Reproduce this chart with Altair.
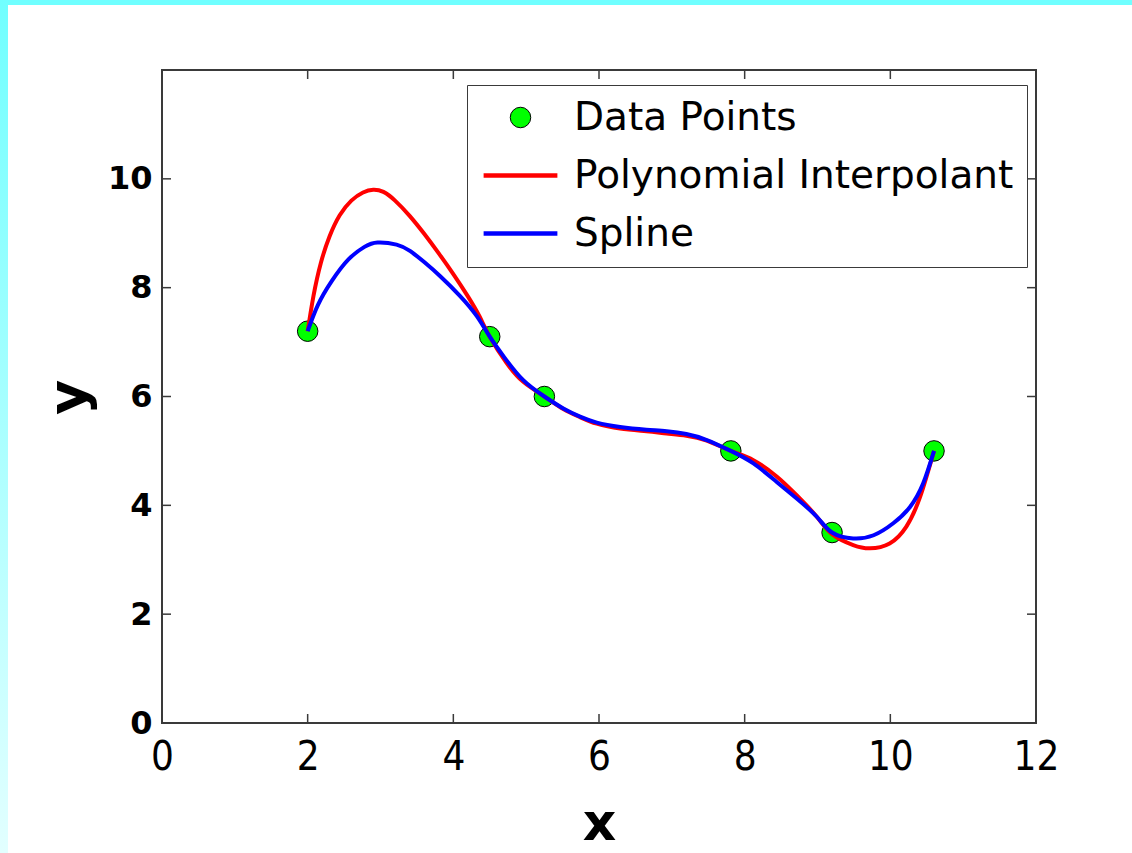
import altair as alt
import pandas as pd

# Measured data points
pts_x = [2.0, 4.5, 5.25, 7.81, 9.2, 10.6]
pts_y = [7.2, 7.1, 6.0, 5.0, 3.5, 5.0]

# Degree-5 polynomial interpolant, sampled along its path
poly_x = [2.00, 2.08, 2.18, 2.30, 2.44, 2.60, 2.76, 2.90, 3.04, 3.20, 3.40, 3.60,
          3.80, 4.00, 4.20, 4.36, 4.50, 4.73, 4.96, 5.25, 5.51, 5.74, 5.97, 6.29,
          6.65, 6.93, 7.20, 7.48, 7.81, 8.12, 8.44, 8.71, 8.99, 9.20, 9.49, 9.72,
          9.99, 10.22, 10.41, 10.60]
poly_y = [7.20, 7.85, 8.45, 8.94, 9.33, 9.60, 9.75, 9.80, 9.76, 9.60, 9.32, 8.99,
          8.63, 8.25, 7.84, 7.47, 7.10, 6.62, 6.27, 6.00, 5.77, 5.62, 5.50, 5.41,
          5.36, 5.32, 5.28, 5.19, 5.00, 4.83, 4.53, 4.19, 3.79, 3.47, 3.27, 3.21,
          3.30, 3.61, 4.16, 5.00]

# Cubic spline through the same points
spline_x = [2.00, 2.14, 2.33, 2.56, 2.78, 2.96, 3.22, 3.41, 3.60, 3.82, 4.09, 4.32,
            4.50, 4.70, 4.96, 5.25, 5.51, 5.74, 5.97, 6.29, 6.65, 6.93, 7.20, 7.48,
            7.81, 8.12, 8.44, 8.71, 8.99, 9.20, 9.49, 9.77, 10.04, 10.27, 10.45, 10.60]
spline_y = [7.20, 7.68, 8.12, 8.52, 8.75, 8.83, 8.79, 8.67, 8.47, 8.21, 7.85, 7.48,
            7.10, 6.72, 6.30, 6.00, 5.78, 5.63, 5.52, 5.44, 5.39, 5.36, 5.31, 5.20,
            5.00, 4.77, 4.43, 4.13, 3.79, 3.50, 3.39, 3.45, 3.67, 3.97, 4.40, 5.00]

series_names = ["Data Points", "Polynomial Interpolant", "Spline"]
x_ticks = [0, 2, 4, 6, 8, 10, 12]
y_ticks = [0, 2, 4, 6, 8, 10]

W, H = 874, 653
PAD = {"left": 162, "top": 70, "right": 96, "bottom": 130}
FRAME = "#3a3a3a"

pts_df = pd.DataFrame({"x": pts_x, "y": pts_y, "series": "Data Points"})
poly_df = pd.DataFrame({"x": poly_x, "y": poly_y})
spline_df = pd.DataFrame({"x": spline_x, "y": spline_y})
xt_df = pd.DataFrame({"x": x_ticks})
yt_df = pd.DataFrame({"y": y_ticks})
one = pd.DataFrame({"k": [0]})

xscale = alt.Scale(domain=[0, 12], nice=False, zero=False)
yscale = alt.Scale(domain=[0, 12], nice=False, zero=False)

x_axis = alt.Axis(
    title="x", values=x_ticks, ticks=False, domain=False, grid=False,
    labelFont="DejaVu Sans Condensed", labelFontSize=40, labelColor="black",
    labelPadding=14, labelFlush=False,
    titleFont="DejaVu Sans", titleFontSize=52, titleFontWeight="bold",
    titleColor="black", titleY=100, titleBaseline="middle")
y_axis = alt.Axis(
    title="y", values=y_ticks, ticks=False, domain=False, grid=False,
    labelFont="DejaVu Sans", labelFontSize=32, labelFontWeight="bold",
    labelColor="black", labelPadding=10, labelFlush=False,
    titleFont="DejaVu Sans", titleFontSize=54, titleFontWeight="bold",
    titleColor="black", titleX=-93, titleY=327, titleAlign="center",
    titleBaseline="middle")


def xenc():
    return alt.X("x:Q", scale=xscale, axis=x_axis)


def yenc():
    return alt.Y("y:Q", scale=yscale, axis=y_axis)


# Cyan page edge along the top and left
top_strip = alt.Chart(one).mark_rect(color="#70ffff").encode(
    x=alt.value(-PAD["left"]), x2=alt.value(W + PAD["right"]),
    y=alt.value(-PAD["top"]), y2=alt.value(-PAD["top"] + 5))
left_strip = alt.Chart(one).mark_rect(
    fill=alt.Gradient(gradient="linear", x1=0, y1=0, x2=0, y2=1,
                      stops=[alt.GradientStop(color="#70ffff", offset=0),
                             alt.GradientStop(color="#e2ffff", offset=1)])
).encode(
    x=alt.value(-PAD["left"]), x2=alt.value(-PAD["left"] + 8),
    y=alt.value(-PAD["top"]), y2=alt.value(H + PAD["bottom"]))


def ordinal(rng):
    return alt.Scale(type="ordinal", domain=series_names, range=rng)


points = alt.Chart(pts_df).mark_point(filled=False, opacity=1).encode(
    x=xenc(), y=yenc(),
    fill=alt.Fill("series:N", scale=ordinal(["#00ff00", "transparent", "transparent"]),
                  legend=alt.Legend(title=None)),
    stroke=alt.Stroke("series:N", scale=ordinal(["#000000", "#ff0000", "#0000ff"]),
                      legend=alt.Legend(title=None)),
    shape=alt.Shape("series:N", scale=ordinal(["circle", "M-3.6,0H3.6", "M-3.6,0H3.6"]),
                    legend=alt.Legend(title=None)),
    size=alt.Size("series:N", scale=ordinal([420, 420, 420]), legend=alt.Legend(title=None)),
    strokeWidth=alt.StrokeWidth("series:N", scale=ordinal([1, 4.5, 4.5]),
                                legend=alt.Legend(title=None)),
)

poly_line = alt.Chart(poly_df).mark_line(
    color="#ff0000", strokeWidth=4, interpolate="natural").encode(x=xenc(), y=yenc())
spline_line = alt.Chart(spline_df).mark_line(
    color="#0000ff", strokeWidth=4, interpolate="natural").encode(x=xenc(), y=yenc())

# Inward tick marks on all four sides of the box
tick_len = 9
xt = alt.Chart(xt_df).encode(x=xenc())
bottom_ticks = xt.mark_rule(color=FRAME, strokeWidth=1.5).encode(
    y=alt.value(H), y2=alt.value(H - tick_len))
top_ticks = xt.mark_rule(color=FRAME, strokeWidth=1.5).encode(
    y=alt.value(0), y2=alt.value(tick_len))
yt = alt.Chart(yt_df).encode(y=yenc())
left_ticks = yt.mark_rule(color=FRAME, strokeWidth=1.5).encode(
    x=alt.value(0), x2=alt.value(tick_len))
right_ticks = yt.mark_rule(color=FRAME, strokeWidth=1.5).encode(
    x=alt.value(W), x2=alt.value(W - tick_len))

chart = alt.layer(
    points, top_strip, left_strip, poly_line, spline_line,
    bottom_ticks, top_ticks, left_ticks, right_ticks
).properties(
    width=W, height=H, padding=PAD, autosize="none", background="white"
).configure_view(
    stroke=FRAME, strokeWidth=2
).configure_legend(
    orient="none", legendX=305, legendY=15,
    strokeColor=FRAME, fillColor="white", padding=13,
    labelFont="DejaVu Sans", labelFontSize=39, labelColor="black",
    labelLimit=600, labelOffset=34, symbolOffset=21, rowPadding=18,
    symbolLimit=0
)

chart.save("out.html", embed_options={"renderer": "svg", "actions": False})
